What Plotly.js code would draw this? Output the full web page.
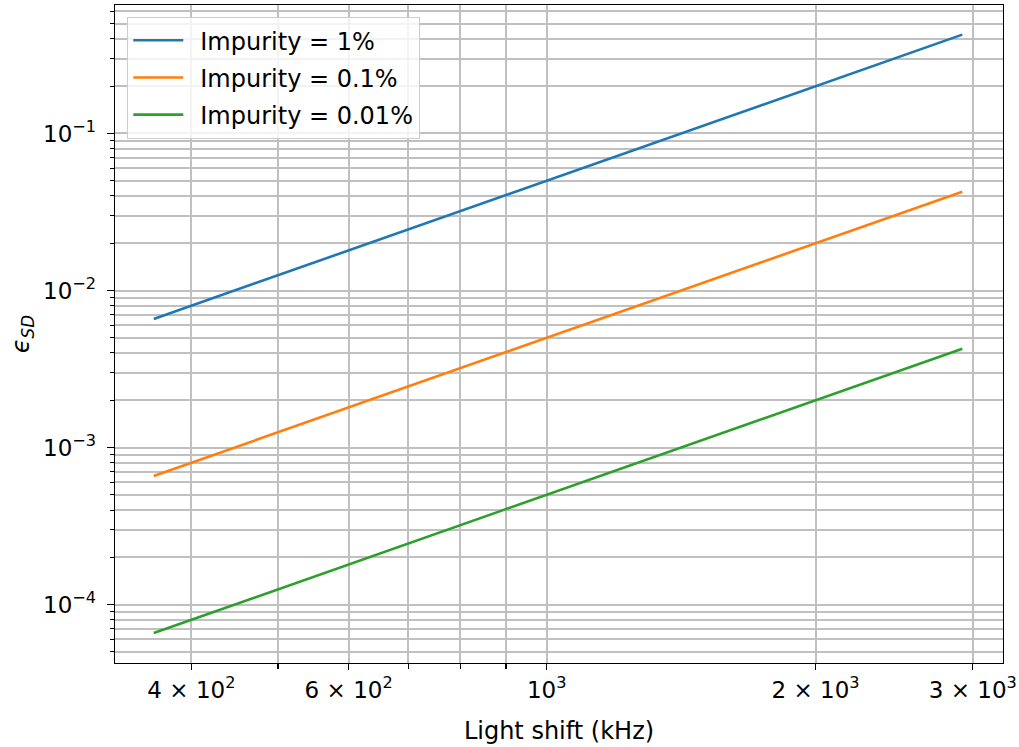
<!DOCTYPE html>
<html>
<head>
<meta charset="utf-8">
<script src="https://cdn.plot.ly/plotly-3.0.1.min.js"></script>
<style>html,body{margin:0;padding:0;background:#fff;}#chart{width:1019px;height:747px;}</style>
</head>
<body>
<div id="chart"></div>
<script>
// Light shift (kHz)
const lightShift = [363, 400, 500, 600, 800, 1000, 1500, 2000, 2500, 2920];
// epsilon_SD for each impurity level
const impurity1 = [0.00659, 0.0080, 0.0125, 0.0180, 0.0320, 0.0500, 0.1125, 0.200, 0.3125, 0.426];
const impurity01 = [0.000659, 0.00080, 0.00125, 0.00180, 0.00320, 0.00500, 0.01125, 0.0200, 0.03125, 0.0426];
const impurity001 = [0.0000659, 0.000080, 0.000125, 0.000180, 0.000320, 0.000500, 0.001125, 0.00200, 0.003125, 0.00426];
const seriesNames = ['Impurity = 1%', 'Impurity = 0.1%', 'Impurity = 0.01%'];
const colors = ['#1f77b4', '#ff7f0e', '#2ca02c'];

const xTickVals = [400, 600, 1000, 2000, 3000];
const xTickText = ['4 × 10<sup>2</sup>', '6 × 10<sup>2</sup>', '10<sup>3</sup>', '2 × 10<sup>3</sup>', '3 × 10<sup>3</sup>'];
const xMinorVals = [500, 700, 800, 900];
const yTickVals = [1e-4, 1e-3, 1e-2, 1e-1];
const yTickText = ['10<sup>−4</sup>', '10<sup>−3</sup>', '10<sup>−2</sup>', '10<sup>−1</sup>'];

const yMinorVals = [];
[1e-5, 1e-4, 1e-3, 1e-2, 1e-1].forEach(d => { for (let k = 2; k <= 9; k++) yMinorVals.push(k * d); });

const ys = [impurity1, impurity01, impurity001];
const traces = ys.map((y, i) => ({
  x: lightShift, y: y, type: 'scatter', mode: 'lines', name: '\u2002' + seriesNames[i],
  legendgroup: 'g' + i,
  line: {color: colors[i], width: 2.6}
}));

const font = {family: 'DejaVu Sans, sans-serif', size: 23, color: '#000'};
const gridC = '#c0c0c0';
const layout = {
  width: 1019, height: 747,
  margin: {l: 115, r: 16, t: 5, b: 84},
  paper_bgcolor: '#fff', plot_bgcolor: '#fff',
  font: font,
  showlegend: true,
  legend: {
    x: 0.0135, y: 0.982, xanchor: 'left', yanchor: 'top',
    bgcolor: 'rgba(255,255,255,0.8)', bordercolor: '#cccccc', borderwidth: 1.3,
    font: {family: 'DejaVu Sans, sans-serif', size: 24, color: '#000'},
    tracegroupgap: 3, itemwidth: 50
  },
  xaxis: {
    type: 'log',
    range: [Math.log10(328.5), Math.log10(3243)],
    tickmode: 'array', tickvals: xTickVals, ticktext: xTickText,
    ticks: 'outside', ticklen: 6, tickwidth: 1.3, tickcolor: '#000',
    showgrid: true, gridcolor: gridC, gridwidth: 2,
    minor: {tickmode: 'array', tickvals: xMinorVals, ticks: 'outside', ticklen: 5, tickwidth: 1.3, tickcolor: '#000', showgrid: true, gridcolor: gridC, gridwidth: 2},
    showline: true, linecolor: '#000', linewidth: 1.3, mirror: true,
    zeroline: false,
    title: {text: 'Light shift (kHz)', font: {family: 'DejaVu Sans, sans-serif', size: 24, color: '#000'}, standoff: 20},
    tickfont: font
  },
  yaxis: {
    type: 'log',
    range: [-4.372, -0.182],
    tickmode: 'array', tickvals: yTickVals, ticktext: yTickText,
    ticks: 'outside', ticklen: 7, tickwidth: 1.3, tickcolor: '#000',
    ticklabelstandoff: 6,
    showgrid: true, gridcolor: gridC, gridwidth: 2,
    minor: {tickmode: 'array', tickvals: yMinorVals, ticks: 'outside', ticklen: 4, tickwidth: 1, tickcolor: '#000', showgrid: true, gridcolor: gridC, gridwidth: 2},
    showline: true, linecolor: '#000', linewidth: 1.3, mirror: true,
    zeroline: false,
    title: {text: '<i>ϵ</i><sub><i>SD</i></sub>', font: {family: 'DejaVu Sans, sans-serif', size: 24, color: '#000'}, standoff: 6},
    tickfont: font
  }
};

Plotly.newPlot('chart', traces, layout, {displayModeBar: false, staticPlot: true});
</script>
</body>
</html>
